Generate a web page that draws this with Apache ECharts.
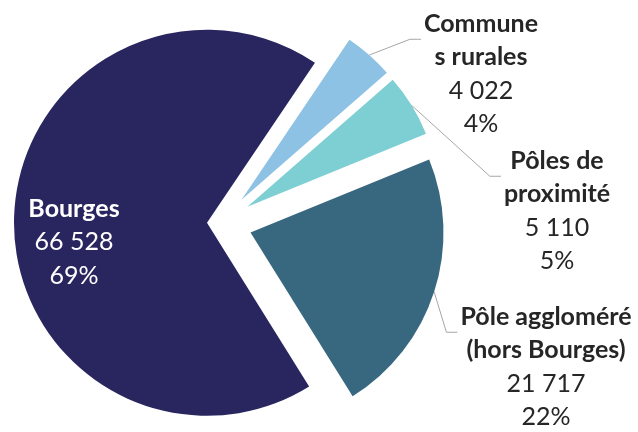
<!DOCTYPE html>
<html>
<head>
<meta charset="utf-8">
<script src="https://cdn.jsdelivr.net/npm/echarts@6/dist/echarts.min.js"></script>
<style>
  html, body { margin: 0; padding: 0; background: #fff; }
  #chart { width: 638px; height: 432px; }
</style>
</head>
<body>
<div id="chart"></div>
<script>
// données
const categories = ['Communes rurales', 'Pôles de proximité', 'Pôle aggloméré (hors Bourges)', 'Bourges']
const labelNames = ['Commune\ns rurales', 'Pôles de\nproximité', 'Pôle aggloméré\n(hors Bourges)', 'Bourges']
const values = [4022, 5110, 21717, 66528]
const percentLabels = ['4%', '5%', '22%', '69%']

const colors = ['#8dc2e4', '#7ecfd3', '#37687f', '#29255f']
const explode = [31, 31, 31, 14]
const textColors = ['#262626', '#262626', '#262626', '#ffffff']

const CENTER = [221, 223]
const START = 56
// position du centre des étiquettes
const labelPos = [[481, 74], [557, 211], [546, 367], [74, 242]]

const fmt = v => String(v).replace(/\B(?=(\d{3})+(?!\d))/g, ' ')

const formatter = p => {
  const i = p.dataIndex
  const nameLines = labelNames[i].split('\n').map(s => '{b|' + s + '}')
  return nameLines.concat(['{v|' + fmt(values[i]) + '}', '{v|' + percentLabels[i] + '}']).join('\n')
}

const richStyle = color => ({
  b: { fontFamily: 'Lato', fontWeight: 'bold', fontSize: 25, lineHeight: 33.5, color, align: 'center' },
  v: { fontFamily: 'Lato', fontSize: 25, lineHeight: 33.5, color, align: 'center' },
})

const total = values.reduce((a, b) => a + b, 0)

// centre décalé de chaque secteur (secteur éclaté le long de sa bissectrice)
const explodedCenter = idx => {
  const before = values.slice(0, idx).reduce((a, b) => a + b, 0)
  const mid = (START - 360 * (before + values[idx] / 2) / total) * Math.PI / 180
  return [CENTER[0] + explode[idx] * Math.cos(mid), CENTER[1] - explode[idx] * Math.sin(mid)]
}

const chart = echarts.init(document.getElementById('chart'))

// une série par secteur, seule la part concernée est visible
const makeSeries = idx => ({
  type: 'pie',
  center: explodedCenter(idx),
  radius: 193,
  startAngle: START,
  clockwise: true,
  silent: true,
  animation: false,
  avoidLabelOverlap: false,
  itemStyle: { borderWidth: 0 },
  label: {
    show: true,
    formatter,
    rich: richStyle(textColors[idx]),
    textBorderWidth: 0,
  },
  labelLine: {
    show: idx !== 3,
    length: 10,
    length2: 8,
    lineStyle: { color: '#a6a6a6', width: 1 },
  },
  labelLayout: p => {
    const pos = labelPos[p.dataIndex]
    const res = { x: pos[0], y: pos[1], align: 'center', verticalAlign: 'middle' }
    // trait de rappel : du bord du secteur vers le haut gauche de l'étiquette
    if (p.labelLinePoints) {
      const w = p.labelRect.width
      const h = p.labelRect.height
      const end = [pos[0] - w / 2 - 3, pos[1] - h / 2 + 28]
      res.labelLinePoints = [p.labelLinePoints[0], [end[0] - 11, end[1]], end]
    }
    return res
  },
  data: categories.map((name, i) => ({
    name,
    value: values[i],
    itemStyle: { color: i === idx ? colors[i] : 'rgba(0,0,0,0)' },
    label: { show: i === idx },
    labelLine: { show: i === idx && idx !== 3 },
  })),
})

chart.setOption({
  animation: false,
  series: categories.map((c, i) => makeSeries(i)),
})

window.addEventListener('resize', () => chart.resize())
</script>
</body>
</html>
